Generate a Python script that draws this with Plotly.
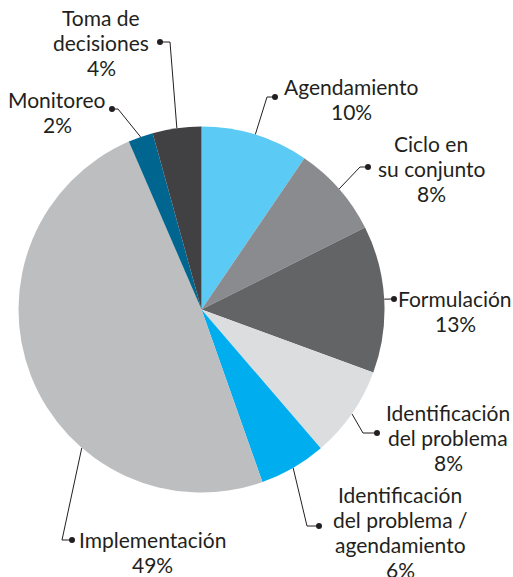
import numpy as np
import plotly.graph_objects as go

# ---- data ----
categories = ["Agendamiento", "Ciclo en su conjunto", "Formulación",
              "Identificación del problema", "Identificación del problema / agendamiento",
              "Implementación", "Monitoreo", "Toma de decisiones"]
values = [9.5, 8.1, 13.0, 8.1, 5.9, 48.9, 2.2, 4.3]
pct_labels = ["10%", "8%", "13%", "8%", "6%", "49%", "2%", "4%"]
label_lines = [["Agendamiento"], ["Ciclo en", "su conjunto"], ["Formulación"],
               ["Identificación", "del problema"], ["Identificación", "del problema /", "agendamiento"],
               ["Implementación"], ["Monitoreo"], ["Toma de", "decisiones"]]
colors = ["#5bcbf5", "#8a8b8e", "#636466", "#dcdddf", "#00aeef",
          "#bcbec0", "#00668f", "#414042"]

# ---- layout (pixels) ----
W, H = 513, 577
CX, CY, R = 201.5, 309.5, 183.0
LINE_H = 25
FONT_SIZE = 21
# label block centre, elbow point, dot point, anchor shift (in % of circle)
label_pos = [(351, 99), (431, 168), (455, 311), (448, 437), (400, 532), (152, 552), (57, 112), (101, 42)]
elbows = [(267, 97), (360, 167), (387, 299), (363, 433), (307, 526), (62, 540), (118, 109), (170, 42)]
dots = [(275, 97), (368, 167), (394, 299), (377, 433), (319, 526), (72, 540), (112, 109), (160, 42)]
anchor_shift = [0, 0, 0, 0, 0, -7.7, 0, 0]

fig = go.Figure()
fig.add_trace(go.Pie(
    labels=categories, values=values, sort=False, direction="clockwise", rotation=0,
    marker=dict(colors=colors, line=dict(width=0)), textinfo="none", hoverinfo="label+percent",
    showlegend=False,
    domain=dict(x=[(CX - R) / W, (CX + R) / W], y=[1 - (CY + R) / H, 1 - (CY - R) / H]),
))

vals = np.array(values)
cum = np.cumsum(vals) / vals.sum() * 100
starts = cum - vals / vals.sum() * 100
mids = (starts + cum) / 2 + np.array(anchor_shift)
ang = np.deg2rad(mids * 3.6)
ax_x = CX + R * np.sin(ang)
ax_y = CY - R * np.cos(ang)

lx, ly = [], []
for i in range(len(values)):
    lx += [ax_x[i], elbows[i][0], dots[i][0], None]
    ly += [ax_y[i], elbows[i][1], dots[i][1], None]
fig.add_trace(go.Scatter(x=lx, y=ly, mode="lines", line=dict(color="#231f20", width=1),
                         hoverinfo="skip", showlegend=False))
fig.add_trace(go.Scatter(x=[d[0] for d in dots], y=[d[1] for d in dots], mode="markers",
                         marker=dict(color="#231f20", size=6), hoverinfo="skip", showlegend=False))

for i in range(len(values)):
    lines = label_lines[i] + [pct_labels[i]]
    n = len(lines)
    for k, t in enumerate(lines):
        fig.add_annotation(x=label_pos[i][0], y=label_pos[i][1] + (k - (n - 1) / 2) * LINE_H,
                           xref="x", yref="y", text=t, showarrow=False,
                           xanchor="center", yanchor="middle", align="center",
                           font=dict(family="Lato", size=FONT_SIZE, color="#231f20"))

fig.update_layout(
    width=W, height=H, margin=dict(l=0, r=0, t=0, b=0),
    paper_bgcolor="white", plot_bgcolor="rgba(0,0,0,0)",
    xaxis=dict(range=[0, W], visible=False, fixedrange=True),
    yaxis=dict(range=[H, 0], visible=False, fixedrange=True),
    showlegend=False,
)
fig.write_html("out.html", config={"displayModeBar": False},
               post_script="document.body.style.margin='0';document.body.style.overflow='hidden';")
